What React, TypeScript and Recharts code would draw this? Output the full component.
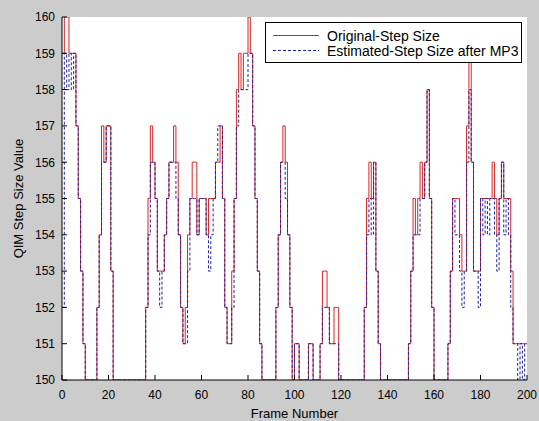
import React from "react";
import { LineChart, Line, XAxis, YAxis, CartesianGrid } from "recharts";

// step size per frame, frames 0..200
const originalStep = [
  159, 160, 160, 159, 159, 159, 157, 155, 153, 151,
  150, 150, 150, 150, 150, 152, 154, 157, 156, 157,
  157, 153, 150, 150, 150, 150, 150, 150, 150, 150,
  150, 150, 150, 150, 150, 150, 152, 155, 157, 156,
  155, 153, 153, 153, 154, 155, 156, 156, 157, 156,
  154, 152, 151, 152, 154, 155, 156, 156, 154, 155,
  155, 155, 154, 155, 155, 155, 156, 156, 157, 155,
  152, 151, 151, 153, 155, 158, 159, 158, 159, 159,
  160, 159, 157, 155, 153, 151, 150, 150, 150, 150,
  150, 150, 152, 154, 156, 157, 156, 154, 152, 150,
  151, 151, 150, 150, 150, 150, 151, 151, 150, 150,
  150, 151, 153, 153, 152, 151, 151, 152, 152, 150,
  150, 150, 150, 150, 150, 150, 150, 150, 150, 150,
  152, 155, 156, 155, 156, 153, 151, 150, 150, 150,
  150, 150, 150, 150, 150, 150, 150, 150, 150, 151,
  153, 155, 154, 155, 156, 155, 156, 158, 155, 152,
  150, 150, 150, 150, 150, 150, 151, 153, 155, 155,
  155, 154, 153, 153, 157, 159, 156, 153, 153, 153,
  155, 155, 155, 155, 155, 156, 155, 154, 155, 156,
  155, 155, 155, 153, 151, 151, 151, 151, 151, 151,
  151,
];

const estimatedStep = [
  152, 159, 158, 159, 158, 159, 157, 155, 153, 151,
  150, 150, 150, 150, 150, 152, 154, 156, 156, 157,
  157, 153, 150, 150, 150, 150, 150, 150, 150, 150,
  150, 150, 150, 150, 150, 150, 152, 154, 156, 156,
  155, 153, 152, 153, 154, 155, 156, 156, 156, 155,
  154, 152, 151, 151, 153, 155, 155, 155, 154, 155,
  155, 155, 154, 153, 154, 155, 156, 157, 157, 155,
  152, 151, 151, 152, 155, 157, 158, 158, 158, 158,
  159, 159, 157, 155, 153, 151, 150, 150, 150, 150,
  150, 150, 152, 154, 156, 156, 155, 154, 152, 150,
  151, 151, 150, 150, 150, 150, 151, 151, 150, 150,
  150, 151, 152, 152, 152, 151, 151, 151, 151, 150,
  150, 150, 150, 150, 150, 150, 150, 150, 150, 150,
  152, 154, 155, 154, 156, 153, 151, 150, 150, 150,
  150, 150, 150, 150, 150, 150, 150, 150, 150, 151,
  153, 154, 154, 154, 155, 155, 156, 158, 155, 152,
  150, 150, 150, 150, 150, 150, 151, 153, 155, 154,
  154, 153, 152, 153, 156, 158, 156, 153, 153, 152,
  155, 154, 155, 154, 155, 155, 154, 153, 155, 156,
  154, 155, 154, 152, 151, 151, 150, 151, 150, 151,
  151,
];

const frameTicks = [0, 20, 40, 60, 80, 100, 120, 140, 160, 180, 200];
const stepTicks = [150, 151, 152, 153, 154, 155, 156, 157, 158, 159, 160];
const seriesNames = ["Original-Step Size", "Estimated-Step Size after MP3"];

const chartData = originalStep.map((v, i) => ({
  frame: i,
  original: v,
  estimated: estimatedStep[i],
}));

const FONT = '"Liberation Sans", Arial, sans-serif';
const TICK = 5;
const RED = "#d42626";
const BLUE = "#22229c";

const BottomTick = ({ x, y, payload }: any) => (
  <g>
    <line x1={x} x2={x} y1={y} y2={y - TICK} stroke="#000" />
    <text x={x} y={y + 19} textAnchor="middle" fontSize={12} fill="#000" fontFamily={FONT}>
      {payload.value}
    </text>
  </g>
);

const TopTick = ({ x, y }: any) => (
  <line x1={x} x2={x} y1={y} y2={y + TICK} stroke="#000" />
);

const LeftTick = ({ x, y, payload }: any) => (
  <g>
    <line x1={x} x2={x + TICK} y1={y} y2={y} stroke="#000" />
    <text x={x - 7} y={y} dy="0.36em" textAnchor="end" fontSize={12} fill="#000" fontFamily={FONT}>
      {payload.value}
    </text>
  </g>
);

const RightTick = ({ x, y }: any) => (
  <line x1={x} x2={x - TICK} y1={y} y2={y} stroke="#000" />
);

const YTitle = ({ viewBox }: any) => {
  const cx = viewBox.x + 18;
  const cy = viewBox.y + viewBox.height / 2;
  return (
    <text
      x={cx}
      y={cy}
      transform={`rotate(-90 ${cx} ${cy})`}
      textAnchor="middle"
      dominantBaseline="central"
      fontSize={13}
      fill="#000"
      fontFamily={FONT}
    >
      QIM Step Size Value
    </text>
  );
};

export default function App() {
  return (
    <div
      style={{
        position: "absolute",
        left: 0,
        top: 0,
        width: 539,
        height: 421,
        background: "#cccccc",
        fontFamily: FONT,
      }}
    >
      <LineChart
        width={539}
        height={421}
        data={chartData}
        margin={{ top: 17, right: 12, bottom: 0, left: 0 }}
      >
        <CartesianGrid horizontal={false} vertical={false} fill="#ffffff" />
        <XAxis
          dataKey="frame"
          type="number"
          domain={[0, 200]}
          ticks={frameTicks}
          height={41}
          tickSize={0}
          tickMargin={0}
          tick={<BottomTick />}
          axisLine={{ stroke: "#000" }}
          tickLine={false}
          interval={0}
          label={{
            value: "Frame Number",
            position: "insideBottom",
            offset: 3,
            fill: "#000",
            fontSize: 13,
            fontFamily: FONT,
          }}
        />
        <XAxis
          xAxisId="top"
          orientation="top"
          dataKey="frame"
          type="number"
          domain={[0, 200]}
          ticks={frameTicks}
          height={0}
          tickSize={0}
          tickMargin={0}
          tick={<TopTick />}
          axisLine={{ stroke: "#000" }}
          tickLine={false}
          interval={0}
        />
        <YAxis
          type="number"
          domain={[150, 160]}
          ticks={stepTicks}
          width={62}
          tickSize={0}
          tickMargin={0}
          tick={<LeftTick />}
          axisLine={{ stroke: "#000" }}
          tickLine={false}
          interval={0}
          allowDataOverflow
          label={<YTitle />}
        />
        <YAxis
          yAxisId="right"
          orientation="right"
          type="number"
          domain={[150, 160]}
          ticks={stepTicks}
          width={0}
          tickSize={0}
          tickMargin={0}
          tick={<RightTick />}
          axisLine={{ stroke: "#000" }}
          tickLine={false}
          interval={0}
        />
        <Line
          type="stepAfter"
          dataKey="original"
          name={seriesNames[0]}
          stroke={RED}
          strokeWidth={1}
          dot={false}
          isAnimationActive={false}
        />
        <Line
          type="stepAfter"
          dataKey="estimated"
          name={seriesNames[1]}
          stroke={BLUE}
          strokeWidth={1}
          strokeDasharray="3 2"
          dot={false}
          isAnimationActive={false}
        />
      </LineChart>

      {/* legend box */}
      <div
        style={{
          position: "absolute",
          left: 265,
          top: 22,
          width: 255,
          height: 39,
          background: "#fff",
          border: "1px solid #000",
        }}
      >
        {seriesNames.map((name, i) => (
          <div
            key={name}
            style={{
              position: "absolute",
              left: 7,
              top: 5 + i * 15,
              height: 15,
              display: "flex",
              alignItems: "center",
              whiteSpace: "nowrap",
            }}
          >
            <svg width={46} height={15} style={{ marginRight: 8 }}>
              <line
                x1={0}
                x2={46}
                y1={7.5}
                y2={7.5}
                stroke={i === 0 ? RED : BLUE}
                strokeDasharray={i === 0 ? undefined : "3 2"}
              />
            </svg>
            <span style={{ fontSize: 14, color: "#000" }}>{name}</span>
          </div>
        ))}
      </div>
    </div>
  );
}
